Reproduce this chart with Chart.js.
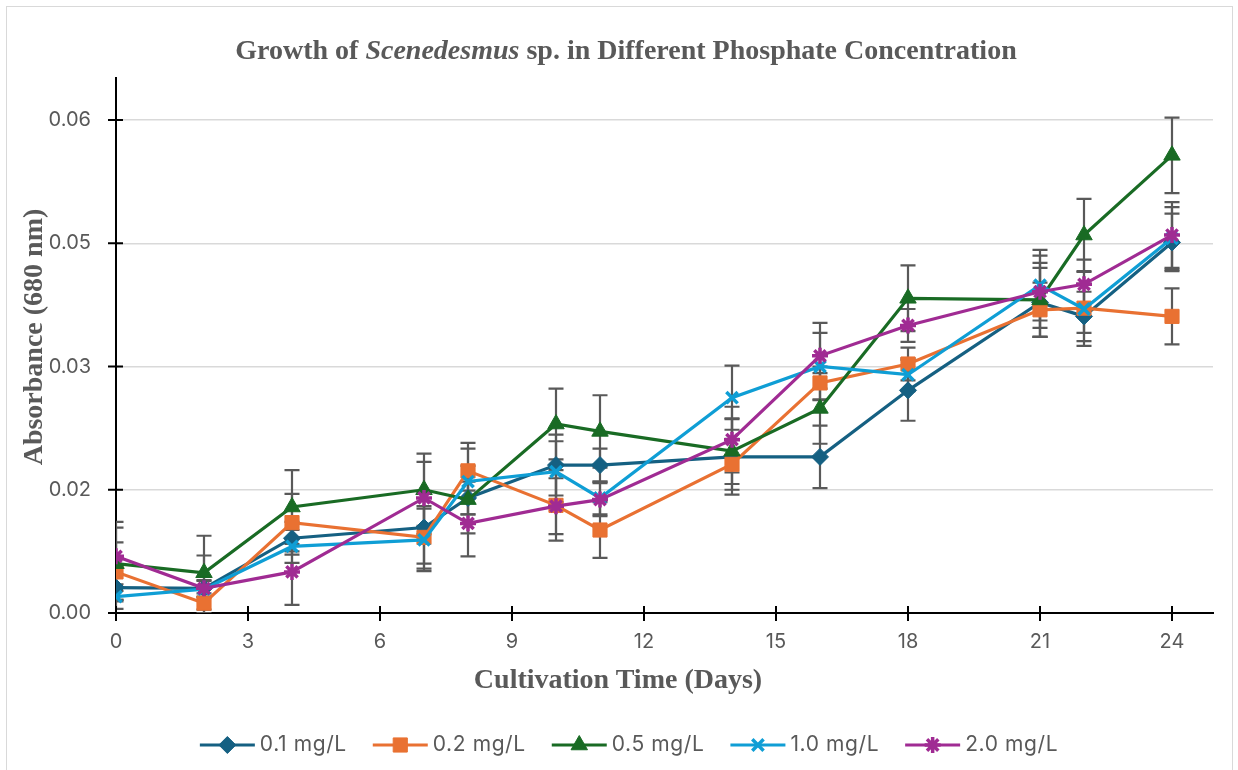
<!DOCTYPE html>
<html>
<head>
<meta charset="utf-8">
<title>Growth of Scenedesmus sp.</title>
<script src="https://cdn.jsdelivr.net/npm/chart.js@4.4.1/dist/chart.umd.min.js"></script>
<style>
  html, body { margin: 0; padding: 0; background: #fff; }
  #wrap { position: relative; width: 1238px; height: 770px; overflow: hidden; }
  #frame { position: absolute; left: 6px; top: 6px; width: 1227px; height: 780px; border: 1.5px solid #d9d9d9; box-sizing: border-box; }
  #chart { position: absolute; left: 0; top: 0; }
  .ttl { position: absolute; font-family: "Liberation Serif", "Times New Roman", serif; font-weight: bold; font-size: 28px; line-height: 28px; color: #595959; text-align: center; white-space: nowrap; }
</style>
</head>
<body>
<div id="wrap">
  <div id="frame"></div>
  <canvas id="chart" width="1238" height="770"></canvas>
  <div class="ttl" id="title" style="left:126px; top:36px; width:1000px;">Growth of <i>Scenedesmus</i> sp. in Different Phosphate Concentration</div>
  <div class="ttl" id="xTitle" style="left:318px; top:665px; width:600px;">Cultivation Time (Days)</div>
  <div class="ttl" id="yTitle" style="left:-167px; top:323px; width:400px; transform:rotate(-90deg);">Absorbance (680 nm)</div>
</div>
<script>
// cultivation days
const days = [0, 2, 4, 7, 8, 10, 11, 14, 16, 18, 21, 22, 24];

const seriesLabels = ["0.1 mg/L", "0.2 mg/L", "0.5 mg/L", "1.0 mg/L", "2.0 mg/L"];

// absorbance at 680 nm
const abs01 = [0.0031, 0.0030, 0.0091, 0.0104, 0.0140, 0.0180, 0.0180, 0.0190, 0.0190, 0.0271, 0.0378, 0.0361, 0.0451];
const abs02 = [0.0050, 0.0012, 0.0110, 0.0092, 0.0173, 0.0131, 0.0101, 0.0181, 0.0280, 0.0303, 0.0369, 0.0371, 0.0361];
const abs05 = [0.0060, 0.0049, 0.0129, 0.0150, 0.0138, 0.0230, 0.0221, 0.0197, 0.0249, 0.0383, 0.0381, 0.0460, 0.0557];
const abs10 = [0.0020, 0.0029, 0.0081, 0.0089, 0.0160, 0.0172, 0.0140, 0.0262, 0.0300, 0.0290, 0.0399, 0.0370, 0.0456];
const abs20 = [0.0069, 0.0030, 0.0050, 0.0140, 0.0109, 0.0130, 0.0138, 0.0211, 0.0313, 0.0350, 0.0391, 0.0400, 0.0460];

// error bar half-lengths (estimated)
const err01 = [0.0015, 0.0010, 0.0020, 0.0044, 0.0020, 0.0037, 0.0020, 0.0046, 0.0038, 0.0037, 0.0042, 0.0030, 0.0035];
const err02 = [0.0036, 0.0012, 0.0035, 0.0038, 0.0034, 0.0043, 0.0034, 0.0031, 0.0020, 0.0020, 0.0033, 0.0030, 0.0034];
const err05 = [0.0044, 0.0045, 0.0045, 0.0044, 0.0041, 0.0043, 0.0044, 0.0040, 0.0043, 0.0040, 0.0045, 0.0044, 0.0046];
const err10 = [0.0015, 0.0010, 0.0020, 0.0038, 0.0040, 0.0037, 0.0020, 0.0039, 0.0041, 0.0020, 0.0043, 0.0045, 0.0038];
const err20 = [0.0042, 0.0040, 0.0040, 0.0044, 0.0040, 0.0034, 0.0020, 0.0040, 0.0040, 0.0020, 0.0044, 0.0030, 0.0040];

const xTicks = [0, 3, 6, 9, 12, 15, 18, 21, 24];
const yTicks = [0, 0.015, 0.03, 0.045, 0.06];
const yTickLabels = ["0.00", "0.02", "0.03", "0.05", "0.06"];

const colors = ["#156082", "#E97132", "#196B24", "#0F9ED5", "#A02B93"];
const markers = ["rectRot", "rect", "triangle", "crossRot", "star"];
const markerSize = [8.5, 10, 9.5, 8, 8];

const allValues = [abs01, abs02, abs05, abs10, abs20];
const allErrors = [err01, err02, err05, err10, err20];

const GREY = "#595959";
const SANS = 'Inter, "Liberation Sans", Arial, sans-serif';
const AXIS_LEFT = 116, PLOT_RIGHT = 1213, PLOT_TOP = 78, PLOT_BOTTOM = 613;

const datasets = seriesLabels.map((label, i) => ({
  label,
  data: days.map((d, j) => ({ x: d, y: allValues[i][j] })),
  errors: allErrors[i],
  borderColor: colors[i],
  backgroundColor: colors[i],
  pointBackgroundColor: colors[i],
  pointBorderColor: colors[i],
  pointStyle: markers[i],
  pointRadius: markerSize[i],
  pointHoverRadius: markerSize[i],
  pointBorderWidth: markers[i] === "crossRot" || markers[i] === "star" ? 3.5 : 1,
  borderWidth: 3.2,
  tension: 0,
  order: seriesLabels.length - i,
}));

const errorBars = {
  id: "errorBars",
  beforeDatasetsDraw(chart) {
    const { ctx, chartArea, scales } = chart;
    ctx.save();
    ctx.beginPath();
    ctx.rect(chartArea.left, chartArea.top, chartArea.right - chartArea.left, chartArea.bottom - chartArea.top);
    ctx.clip();
    ctx.strokeStyle = GREY;
    ctx.lineWidth = 2.2;
    chart.data.datasets.forEach((ds) => {
      ds.data.forEach((pt, j) => {
        const e = ds.errors[j];
        const px = scales.x.getPixelForValue(pt.x);
        const top = scales.y.getPixelForValue(pt.y + e);
        const bot = scales.y.getPixelForValue(pt.y - e);
        ctx.beginPath();
        ctx.moveTo(px, top);
        ctx.lineTo(px, bot);
        ctx.moveTo(px - 7.5, top);
        ctx.lineTo(px + 7.5, top);
        ctx.moveTo(px - 7.5, bot);
        ctx.lineTo(px + 7.5, bot);
        ctx.stroke();
      });
    });
    ctx.restore();

    // cross tick marks on both axes
    ctx.save();
    ctx.strokeStyle = "#000";
    ctx.lineWidth = 2;
    ctx.beginPath();
    xTicks.forEach((v) => {
      const px = scales.x.getPixelForValue(v);
      ctx.moveTo(px, chartArea.bottom - 7);
      ctx.lineTo(px, chartArea.bottom + 8);
    });
    yTicks.forEach((v) => {
      const py = scales.y.getPixelForValue(v);
      ctx.moveTo(chartArea.left - 8, py);
      ctx.lineTo(chartArea.left + 7, py);
    });
    ctx.stroke();
    ctx.restore();
  },
};

const lineLegend = {
  id: "lineLegend",
  afterDraw(chart) {
    const { ctx } = chart;
    const legendY = 745, lineLen = 55, textGap = 5, itemGap = 26, centre = 629;
    ctx.save();
    ctx.font = "21px " + SANS;
    ctx.letterSpacing = "0.6px";
    ctx.textBaseline = "middle";
    ctx.textAlign = "left";
    const widths = seriesLabels.map((t) => ctx.measureText(t).width);
    const total = widths.reduce((s, w) => s + lineLen + textGap + w, 0) + itemGap * (widths.length - 1);
    let x0 = centre - total / 2;
    chart.data.datasets.forEach((ds, i) => {
      ctx.strokeStyle = ds.borderColor;
      ctx.lineWidth = 3.2;
      ctx.beginPath();
      ctx.moveTo(x0, legendY);
      ctx.lineTo(x0 + lineLen, legendY);
      ctx.stroke();
      ctx.fillStyle = ds.pointBackgroundColor;
      ctx.strokeStyle = ds.pointBorderColor;
      ctx.lineWidth = ds.pointBorderWidth;
      Chart.helpers.drawPoint(ctx, { pointStyle: ds.pointStyle, radius: ds.pointRadius, rotation: 0, borderWidth: ds.pointBorderWidth }, x0 + lineLen / 2, legendY);
      ctx.fillStyle = GREY;
      ctx.fillText(ds.label, x0 + lineLen + textGap, legendY);
      x0 += lineLen + textGap + widths[i] + itemGap;
    });
    ctx.restore();
  },
};

new Chart(document.getElementById("chart"), {
  type: "line",
  data: { datasets },
  plugins: [errorBars, lineLegend],
  options: {
    responsive: false,
    animation: false,
    devicePixelRatio: 1,
    layout: { padding: { left: 0, top: PLOT_TOP, right: 1238 - PLOT_RIGHT, bottom: 0 } },
    plugins: { legend: { display: false }, title: { display: false }, tooltip: { enabled: false } },
    scales: {
      x: {
        type: "linear",
        min: 0,
        max: 24 * (PLOT_RIGHT - AXIS_LEFT) / 1056,
        afterBuildTicks: (scale) => { scale.ticks = xTicks.map((v) => ({ value: v })); },
        afterFit: (scale) => { scale.height = 770 - PLOT_BOTTOM; },
        grid: { display: false, drawTicks: false },
        border: { display: true, color: "#000", width: 2 },
        ticks: {
          color: GREY,
          padding: 17,
          maxRotation: 0,
          autoSkip: false,
          font: { family: SANS, size: 20 },
        },
      },
      y: {
        type: "linear",
        min: 0,
        max: 0.06 * (PLOT_BOTTOM - PLOT_TOP) / 493,
        afterBuildTicks: (scale) => { scale.ticks = yTicks.map((v) => ({ value: v })); },
        afterFit: (scale) => { scale.width = AXIS_LEFT; },
        grid: {
          drawTicks: false,
          color: (c) => (c.tick && c.tick.value === 0 ? "rgba(0,0,0,0)" : "#d9d9d9"),
          lineWidth: 1.5,
        },
        border: { display: true, color: "#000", width: 2 },
        ticks: {
          color: GREY,
          padding: 25,
          callback: (value, index) => yTickLabels[index],
          font: { family: SANS, size: 20 },
        },
      },
    },
  },
});
</script>
</body>
</html>
